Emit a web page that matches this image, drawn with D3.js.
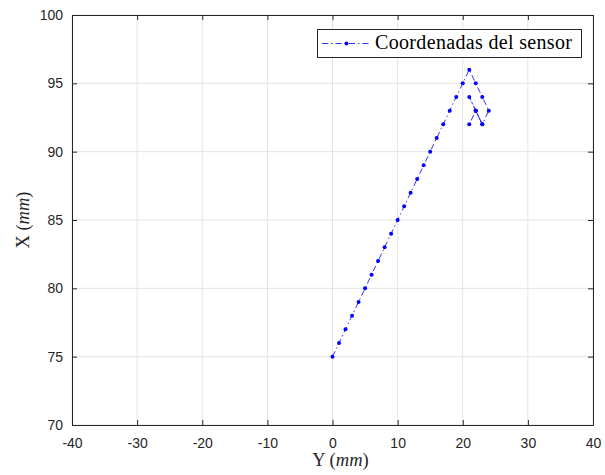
<!DOCTYPE html>
<html>
<head>
<meta charset="utf-8">
<script src="https://cdn.jsdelivr.net/npm/d3@7"></script>
<style>
  html, body { margin: 0; padding: 0; background: #fff; }
  svg { display: block; }
  .tick text { font-family: "Liberation Sans", Arial, sans-serif; font-size: 14px; fill: #262626; }
</style>
</head>
<body>
<svg id="chart" width="605" height="475"></svg>
<script>
// Sensor trajectory: horizontal coordinate (Y, mm) and vertical coordinate (X, mm)
const sensorY = [0, 1, 2, 3, 4, 5, 6, 7, 8, 9, 10, 11, 12, 13, 14, 15, 16, 17, 18, 19, 20, 21,
                 22, 23, 24, 23, 22, 21, 22, 23, 22, 21];
const sensorX = [75, 76, 77, 78, 79, 80, 81, 82, 83, 84, 85, 86, 87, 88, 89, 90, 91, 92, 93, 94, 95, 96,
                 95, 94, 93, 92, 93, 94, 93, 92, 93, 92];

const xTicks = [-40, -30, -20, -10, 0, 10, 20, 30, 40];
const yTicks = [70, 75, 80, 85, 90, 95, 100];
const seriesName = "Coordenadas del sensor";

const svg = d3.select("#chart");

const x = d3.scaleLinear().domain([-40, 40]).range([72, 593]);
const y = d3.scaleLinear().domain([70, 100]).range([425, 15]);

const axisColor = "#262626";
const gridColor = "#e3e3e3";
const fmt = d => String(d);   // plain hyphen for negatives

// grid
const g = svg.append("g");
g.selectAll(".gx").data(xTicks).join("line")
  .attr("x1", d => x(d)).attr("x2", d => x(d))
  .attr("y1", y(70)).attr("y2", y(100))
  .attr("stroke", gridColor).attr("stroke-width", 1);
g.selectAll(".gy").data(yTicks).join("line")
  .attr("y1", d => y(d)).attr("y2", d => y(d))
  .attr("x1", x(-40)).attr("x2", x(40))
  .attr("stroke", gridColor).attr("stroke-width", 1);

// axes (ticks pointing inward)
const xAxis = svg.append("g").attr("transform", `translate(0,${y(70)})`)
  .call(d3.axisBottom(x).tickValues(xTicks).tickSize(-5).tickPadding(13).tickFormat(fmt));
const yAxis = svg.append("g").attr("transform", `translate(${x(-40)},0)`)
  .call(d3.axisLeft(y).tickValues(yTicks).tickSize(-5).tickPadding(9).tickFormat(fmt));
const xTop = svg.append("g").attr("transform", `translate(0,${y(100)})`)
  .call(d3.axisTop(x).tickValues(xTicks).tickSize(-5).tickFormat(""));
const yRight = svg.append("g").attr("transform", `translate(${x(40)},0)`)
  .call(d3.axisRight(y).tickValues(yTicks).tickSize(-5).tickFormat(""));
[xAxis, yAxis, xTop, yRight].forEach(a => {
  a.selectAll("path.domain").attr("stroke", axisColor).attr("stroke-width", 1);
  a.selectAll(".tick line").attr("stroke", axisColor).attr("stroke-width", 1);
});

// data line with point markers
const pts = sensorY.map((v, i) => [v, sensorX[i]]);
const line = d3.line().x(d => x(d[0])).y(d => y(d[1]));
svg.append("path").datum(pts)
  .attr("d", line)
  .attr("fill", "none")
  .attr("stroke", "#0000ff")
  .attr("stroke-width", 0.8)
  .attr("stroke-dasharray", "6,3,1.5,3");
svg.append("g").selectAll("circle").data(pts).join("circle")
  .attr("cx", d => x(d[0])).attr("cy", d => y(d[1]))
  .attr("r", 2).attr("fill", "#0000ff");

// axis labels
const serif = "'Liberation Serif', 'DejaVu Serif', serif";
const xl = svg.append("text").attr("x", x(0) + 8).attr("y", 466)
  .attr("text-anchor", "middle").attr("font-family", serif).attr("font-size", 18.5).attr("fill", axisColor);
xl.append("tspan").text("Y (");
xl.append("tspan").attr("font-style", "italic").text("mm");
xl.append("tspan").text(")");

const yl = svg.append("text")
  .attr("transform", `translate(29,${y(85)}) rotate(-90)`)
  .attr("text-anchor", "middle").attr("font-family", serif).attr("font-size", 18.5).attr("fill", axisColor);
yl.append("tspan").text("X (");
yl.append("tspan").attr("font-style", "italic").text("mm");
yl.append("tspan").text(")");

// legend
const leg = svg.append("g");
leg.append("rect").attr("x", 317.5).attr("y", 29.5).attr("width", 264).attr("height", 28)
  .attr("fill", "#fff").attr("stroke", axisColor).attr("stroke-width", 1);
leg.append("line").attr("x1", 322).attr("x2", 371).attr("y1", 43.5).attr("y2", 43.5)
  .attr("stroke", "#0000ff").attr("stroke-width", 0.8).attr("stroke-dasharray", "6,3,1.5,3");
leg.append("circle").attr("cx", 346.5).attr("cy", 43.5).attr("r", 2).attr("fill", "#0000ff");
leg.append("text").attr("x", 375).attr("y", 49).attr("font-family", serif).attr("font-size", 20)
  .attr("textLength", 197).attr("lengthAdjust", "spacing")
  .attr("fill", "#000").text(seriesName);
</script>
</body>
</html>
